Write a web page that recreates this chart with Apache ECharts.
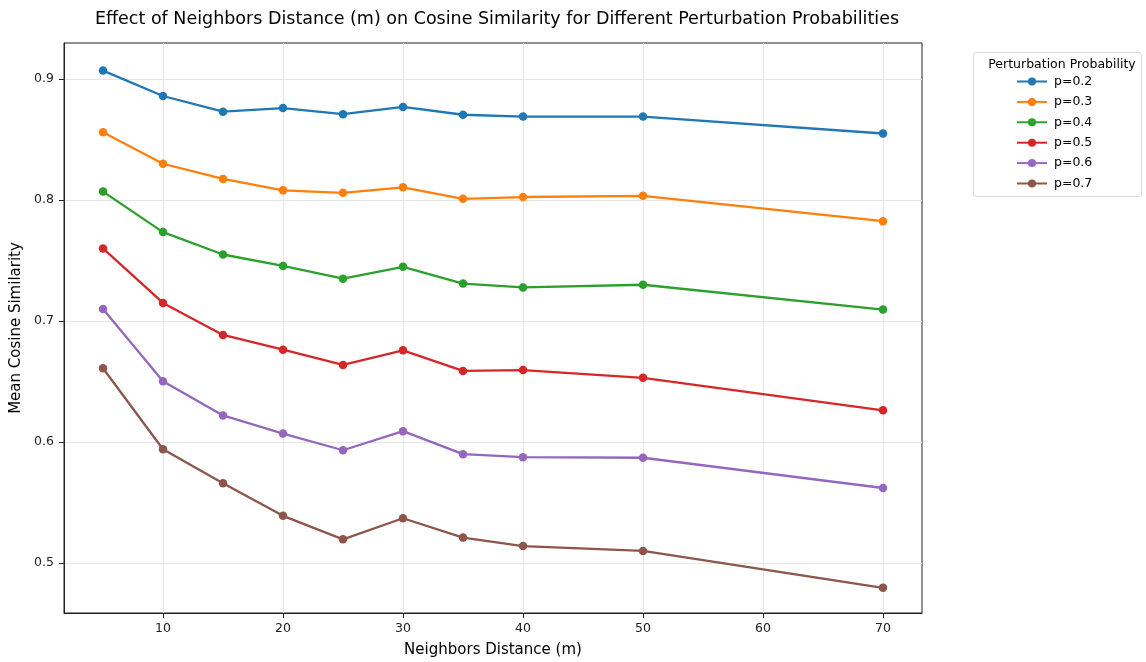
<!DOCTYPE html>
<html>
<head>
<meta charset="utf-8">
<script src="https://cdn.jsdelivr.net/npm/echarts@6/dist/echarts.min.js"></script>
<style>
  html, body { margin: 0; padding: 0; background: #fff; }
  #chart { width: 1146px; height: 662px; }
</style>
</head>
<body>
<div id="chart"></div>
<script>
const distances = [5, 10, 15, 20, 25, 30, 35, 40, 50, 70];
const xTicks = [10, 20, 30, 40, 50, 60, 70];
const yTicks = [0.5, 0.6, 0.7, 0.8, 0.9];
const seriesNames = ['p=0.2', 'p=0.3', 'p=0.4', 'p=0.5', 'p=0.6', 'p=0.7'];
const p02 = [0.907, 0.886, 0.873, 0.876, 0.871, 0.877, 0.8705, 0.869, 0.869, 0.855];
const p03 = [0.856, 0.830, 0.8175, 0.808, 0.806, 0.8105, 0.801, 0.8025, 0.8035, 0.7825];
const p04 = [0.807, 0.7735, 0.755, 0.7455, 0.735, 0.7448, 0.731, 0.7278, 0.730, 0.7095];
const p05 = [0.760, 0.715, 0.6885, 0.6763, 0.6637, 0.6758, 0.6588, 0.6595, 0.6531, 0.6262];
const p06 = [0.710, 0.6503, 0.622, 0.607, 0.5932, 0.609, 0.590, 0.5875, 0.587, 0.562];
const p07 = [0.661, 0.594, 0.566, 0.539, 0.5196, 0.537, 0.521, 0.514, 0.510, 0.4795];
const seriesValues = [p02, p03, p04, p05, p06, p07];
const colors = ['#1f77b4', '#ff7f0e', '#2ca02c', '#d62728', '#9467bd', '#8c564b'];

const font = 'DejaVu Sans';
const chart = echarts.init(document.getElementById('chart'), null, { renderer: 'canvas' });

const series = seriesNames.map((name, i) => ({
  name: name,
  type: 'line',
  data: distances.map((d, j) => [d, seriesValues[i][j]]),
  symbol: 'circle',
  symbolSize: 8.5,
  showSymbol: true,
  lineStyle: { width: 2.3, color: colors[i] },
  itemStyle: { color: colors[i] },
  emphasis: { disabled: true },
  animation: false
}));

chart.setOption({
  animation: false,
  backgroundColor: '#ffffff',
  title: [
    {
      text: 'Effect of Neighbors Distance (m) on Cosine Similarity for Different Perturbation Probabilities',
      left: 492, top: 5, textAlign: 'center',
      textStyle: { fontFamily: font, fontSize: 17.5, fontWeight: 'normal', color: '#000' }
    },
    {
      text: 'Perturbation Probability',
      left: 1057, top: 53, textAlign: 'center',
      textStyle: { fontFamily: font, fontSize: 12.5, fontWeight: 'normal', color: '#000' }
    }
  ],
  graphic: [
    {
      type: 'rect', left: 973, top: 52,
      shape: { width: 168, height: 144, r: 3 },
      style: { fill: '#fff', stroke: '#d9d9d9', lineWidth: 1 },
      z: -1
    }
  ],
  legend: {
    orient: 'vertical',
    left: 1016, top: 75,
    itemWidth: 30, itemHeight: 10,
    itemGap: 7.4,
    padding: 0,
    textStyle: { fontFamily: font, fontSize: 12.5, color: '#000', padding: [0, 0, 0, 2] },
    data: seriesNames
  },
  grid: {
    left: 64, right: 224, top: 43, bottom: 49,
    outerBoundsMode: 'none',
    containLabel: false,
    show: true, borderColor: '#222', borderWidth: 1, backgroundColor: 'transparent'
  },
  xAxis: {
    type: 'value',
    min: 1.75, max: 73.25,
    name: 'Neighbors Distance (m)',
    nameLocation: 'middle', nameGap: 30,
    nameTextStyle: { fontFamily: font, fontSize: 15, color: '#000' },
    axisLine: { show: true, onZero: false, lineStyle: { color: '#222', width: 1 } },
    axisTick: { show: true, inside: false, length: 5, lineStyle: { color: '#222', width: 1 }, customValues: xTicks },
    axisLabel: { fontFamily: font, fontSize: 12.5, color: '#222', margin: 9, customValues: xTicks },
    splitLine: { show: true, lineStyle: { color: '#e6e6e6', width: 1 } }
  },
  yAxis: {
    type: 'value',
    min: 0.4587, max: 0.9298,
    name: 'Mean Cosine Similarity',
    nameLocation: 'middle', nameGap: 32,
    nameTextStyle: { fontFamily: font, fontSize: 15, color: '#000' },
    axisLine: { show: true, onZero: false, lineStyle: { color: '#222', width: 1 } },
    axisTick: { show: true, inside: false, length: 5, lineStyle: { color: '#222', width: 1 }, customValues: yTicks },
    axisLabel: { fontFamily: font, fontSize: 12.5, color: '#222', margin: 10, customValues: yTicks,
      formatter: v => v.toFixed(1) },
    splitLine: { show: true, lineStyle: { color: '#e6e6e6', width: 1 } }
  },
  series: series
});
</script>
</body>
</html>
